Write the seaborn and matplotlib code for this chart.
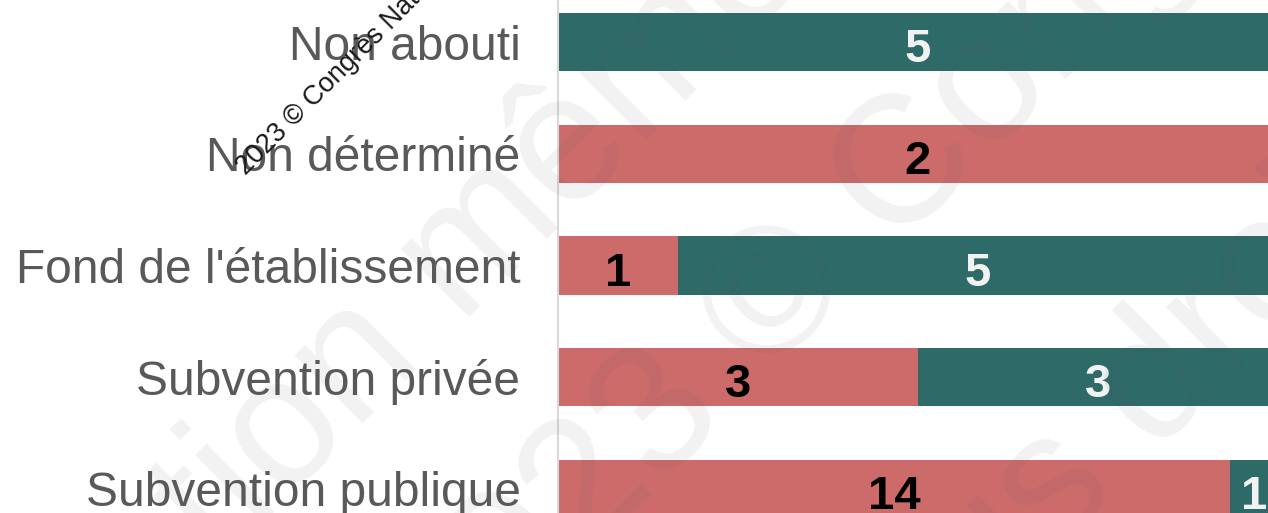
import numpy as np
import pandas as pd
import seaborn as sns
import matplotlib.pyplot as plt
from matplotlib import font_manager

# data
categories = ['Non abouti', 'Non déterminé', "Fond de l'établissement",
              'Subvention privée', 'Subvention publique']
red_counts = [0, 2, 1, 3, 14]
teal_counts = [5, 0, 5, 3, 1]

RED = '#CD6B6B'
TEAL = '#2D6A68'
W, H = 1268, 513

df = pd.DataFrame({'categorie': categories, 'red': red_counts, 'teal': teal_counts})
df['total'] = df['red'] + df['teal']
df['red_pct'] = df['red'] / df['total'] * 100
df['teal_pct'] = df['teal'] / df['total'] * 100
df['back_pct'] = np.where(df['teal'] > 0, 100.0, 0.0)

sns.set_theme(style='white')
plt.rcParams['font.family'] = ['Liberation Sans', 'DejaVu Sans']

# narrow bold font for the numbers if one is around
num_family = 'Liberation Sans'
names = {f.name for f in font_manager.fontManager.ttflist}
for cand in ['Liberation Sans Narrow', 'Arial Narrow']:
    if cand in names:
        num_family = cand
        break

fig = plt.figure(figsize=(W / 100, H / 100), dpi=100)
fig.patch.set_facecolor('white')
ax = fig.add_axes([558 / W, 0, 720 / W, 1])

sns.barplot(data=df, x='back_pct', y='categorie', color=TEAL, orient='h',
            width=0.52, saturation=1, linewidth=0, ax=ax)
sns.barplot(data=df, x='red_pct', y='categorie', color=RED, orient='h',
            width=0.52, saturation=1, linewidth=0, ax=ax)

ax.set_xlim(0, 100)
ax.set_ylim(4.215, -0.376)
ax.set_xlabel('')
ax.set_ylabel('')
ax.set_xticks([])
for s in ['top', 'right', 'bottom']:
    ax.spines[s].set_visible(False)
ax.spines['left'].set_color('#D9D9D9')
ax.spines['left'].set_linewidth(1.5)
ax.tick_params(axis='y', length=0, pad=27, labelsize=34.5, labelcolor='#595959')

for i, row in df.iterrows():
    if row['red'] > 0:
        ax.text(row['red_pct'] / 2, i + 0.18, str(row['red']), ha='center', va='baseline',
                fontsize=34, fontweight='bold', color='black', family=num_family)
    if row['teal'] > 0:
        ax.text(row['red_pct'] + row['teal_pct'] / 2, i + 0.18, str(row['teal']),
                ha='center', va='baseline', fontsize=34, fontweight='bold',
                color='#F2F2F2', family=num_family)

# big faint watermark
def px(x, y):
    return x / W, 1 - y / H

for txt, (x0, y0) in [('Reproduction même partielle interdite', (-334, 1120)),
                      ('2023 © Congrès National', (445, 700)),
                      ('Tous droits réservés', (850, 760))]:
    fx, fy = px(x0, y0)
    fig.text(fx, fy, txt, rotation=45, rotation_mode='anchor', ha='left', va='baseline',
             fontsize=130, color='#5C5C5C', alpha=0.08)

# small watermark
fx, fy = px(246, 176)
fig.text(fx, fy, '2023 © Congrès National', rotation=45, rotation_mode='anchor',
         ha='left', va='baseline', fontsize=19.5, color='#1A1A1A')

fig.savefig('out.png', dpi=100)
